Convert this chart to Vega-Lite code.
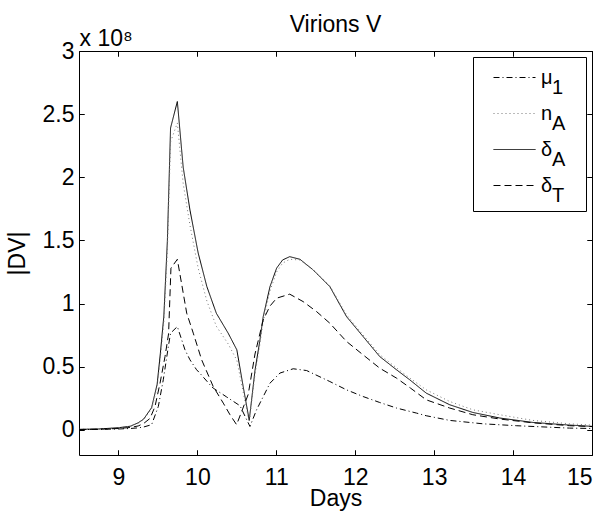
{
  "$schema": "https://vega.github.io/schema/vega-lite/v6.json",
  "width": 513,
  "height": 404,
  "autosize": {"type": "none"},
  "padding": {"left": 79, "top": 51, "right": 16, "bottom": 61},
  "background": "white",
  "config": {
    "font": "Liberation Sans",
    "view": {"stroke": null},
    "axis": {
      "domainColor": "black",
      "labelColor": "black",
      "titleColor": "black",
      "labelFont": "Liberation Sans",
      "titleFont": "Liberation Sans",
      "labelFontSize": 23,
      "titleFontSize": 23,
      "titleFontWeight": "normal",
      "domainWidth": 1
    },
    "style": {"guide-label": {"lineHeight": 10}}
  },
  "data": {
    "values": [
      {"s":"dA","d":8.5,"V":0.003e8},{"s":"dA","d":8.75,"V":0.006e8},{"s":"dA","d":9.0,"V":0.016e8},{"s":"dA","d":9.15,"V":0.028e8},{"s":"dA","d":9.25,"V":0.055e8},{"s":"dA","d":9.32,"V":0.085e8},{"s":"dA","d":9.42,"V":0.175e8},{"s":"dA","d":9.49,"V":0.36e8},{"s":"dA","d":9.53,"V":0.6e8},{"s":"dA","d":9.575,"V":0.9e8},{"s":"dA","d":9.62,"V":1.5e8},{"s":"dA","d":9.66,"V":2.39e8},{"s":"dA","d":9.746,"V":2.6e8},{"s":"dA","d":9.82,"V":2.08e8},{"s":"dA","d":9.906,"V":1.74e8},{"s":"dA","d":10.01,"V":1.4e8},{"s":"dA","d":10.12,"V":1.134e8},{"s":"dA","d":10.24,"V":0.923e8},{"s":"dA","d":10.39,"V":0.765e8},{"s":"dA","d":10.5,"V":0.633e8},{"s":"dA","d":10.58,"V":0.343e8},{"s":"dA","d":10.657,"V":0.075e8},{"s":"dA","d":10.73,"V":0.47e8},{"s":"dA","d":10.79,"V":0.7e8},{"s":"dA","d":10.834,"V":0.896e8},{"s":"dA","d":10.92,"V":1.134e8},{"s":"dA","d":11.004,"V":1.28e8},{"s":"dA","d":11.08,"V":1.345e8},{"s":"dA","d":11.17,"V":1.371e8},{"s":"dA","d":11.3,"V":1.35e8},{"s":"dA","d":11.467,"V":1.266e8},{"s":"dA","d":11.678,"V":1.134e8},{"s":"dA","d":11.89,"V":0.896e8},{"s":"dA","d":12.1,"V":0.738e8},{"s":"dA","d":12.31,"V":0.58e8},{"s":"dA","d":12.523,"V":0.475e8},{"s":"dA","d":12.69,"V":0.396e8},{"s":"dA","d":12.9,"V":0.29e8},{"s":"dA","d":13.197,"V":0.198e8},{"s":"dA","d":13.49,"V":0.137e8},{"s":"dA","d":13.83,"V":0.093e8},{"s":"dA","d":14.25,"V":0.058e8},{"s":"dA","d":14.716,"V":0.037e8},{"s":"dA","d":15,"V":0.027e8},

      {"s":"nA","d":8.5,"V":0.003e8},{"s":"nA","d":8.75,"V":0.006e8},{"s":"nA","d":9.0,"V":0.015e8},{"s":"nA","d":9.15,"V":0.027e8},{"s":"nA","d":9.25,"V":0.052e8},{"s":"nA","d":9.32,"V":0.08e8},{"s":"nA","d":9.42,"V":0.165e8},{"s":"nA","d":9.49,"V":0.34e8},{"s":"nA","d":9.53,"V":0.56e8},{"s":"nA","d":9.575,"V":0.85e8},{"s":"nA","d":9.62,"V":1.42e8},{"s":"nA","d":9.66,"V":2.28e8},{"s":"nA","d":9.746,"V":2.43e8},{"s":"nA","d":9.82,"V":1.95e8},{"s":"nA","d":9.906,"V":1.62e8},{"s":"nA","d":10.01,"V":1.28e8},{"s":"nA","d":10.12,"V":1.02e8},{"s":"nA","d":10.24,"V":0.82e8},{"s":"nA","d":10.39,"V":0.68e8},{"s":"nA","d":10.5,"V":0.55e8},{"s":"nA","d":10.58,"V":0.3e8},{"s":"nA","d":10.657,"V":0.06e8},{"s":"nA","d":10.73,"V":0.44e8},{"s":"nA","d":10.79,"V":0.67e8},{"s":"nA","d":10.834,"V":0.86e8},{"s":"nA","d":10.92,"V":1.1e8},{"s":"nA","d":11.004,"V":1.25e8},{"s":"nA","d":11.08,"V":1.32e8},{"s":"nA","d":11.17,"V":1.35e8},{"s":"nA","d":11.3,"V":1.345e8},{"s":"nA","d":11.467,"V":1.265e8},{"s":"nA","d":11.678,"V":1.14e8},{"s":"nA","d":11.89,"V":0.91e8},{"s":"nA","d":12.1,"V":0.75e8},{"s":"nA","d":12.31,"V":0.595e8},{"s":"nA","d":12.523,"V":0.49e8},{"s":"nA","d":12.69,"V":0.41e8},{"s":"nA","d":12.9,"V":0.316e8},{"s":"nA","d":13.197,"V":0.224e8},{"s":"nA","d":13.49,"V":0.158e8},{"s":"nA","d":13.83,"V":0.119e8},{"s":"nA","d":14.25,"V":0.074e8},{"s":"nA","d":14.716,"V":0.047e8},{"s":"nA","d":15,"V":0.037e8},

      {"s":"dT","d":8.5,"V":0.002e8},{"s":"dT","d":8.75,"V":0.004e8},{"s":"dT","d":9.0,"V":0.01e8},{"s":"dT","d":9.15,"V":0.018e8},{"s":"dT","d":9.25,"V":0.03e8},{"s":"dT","d":9.32,"V":0.05e8},{"s":"dT","d":9.4,"V":0.09e8},{"s":"dT","d":9.463,"V":0.184e8},{"s":"dT","d":9.527,"V":0.37e8},{"s":"dT","d":9.59,"V":0.58e8},{"s":"dT","d":9.635,"V":0.76e8},{"s":"dT","d":9.665,"V":1.28e8},{"s":"dT","d":9.746,"V":1.35e8},{"s":"dT","d":9.865,"V":0.923e8},{"s":"dT","d":9.948,"V":0.765e8},{"s":"dT","d":10.054,"V":0.554e8},{"s":"dT","d":10.2,"V":0.343e8},{"s":"dT","d":10.328,"V":0.211e8},{"s":"dT","d":10.413,"V":0.119e8},{"s":"dT","d":10.497,"V":0.04e8},{"s":"dT","d":10.644,"V":0.28e8},{"s":"dT","d":10.73,"V":0.6e8},{"s":"dT","d":10.834,"V":0.87e8},{"s":"dT","d":10.92,"V":0.98e8},{"s":"dT","d":11.004,"V":1.042e8},{"s":"dT","d":11.17,"V":1.074e8},{"s":"dT","d":11.34,"V":1.015e8},{"s":"dT","d":11.51,"V":0.936e8},{"s":"dT","d":11.678,"V":0.844e8},{"s":"dT","d":11.89,"V":0.699e8},{"s":"dT","d":12.1,"V":0.593e8},{"s":"dT","d":12.31,"V":0.488e8},{"s":"dT","d":12.523,"V":0.409e8},{"s":"dT","d":12.7,"V":0.33e8},{"s":"dT","d":12.9,"V":0.237e8},{"s":"dT","d":13.197,"V":0.172e8},{"s":"dT","d":13.49,"V":0.119e8},{"s":"dT","d":13.83,"V":0.085e8},{"s":"dT","d":14.25,"V":0.055e8},{"s":"dT","d":14.716,"V":0.032e8},{"s":"dT","d":15,"V":0.025e8},

      {"s":"mu1","d":8.5,"V":0.002e8},{"s":"mu1","d":8.75,"V":0.003e8},{"s":"mu1","d":9.0,"V":0.006e8},{"s":"mu1","d":9.15,"V":0.01e8},{"s":"mu1","d":9.25,"V":0.015e8},{"s":"mu1","d":9.32,"V":0.022e8},{"s":"mu1","d":9.42,"V":0.04e8},{"s":"mu1","d":9.505,"V":0.184e8},{"s":"mu1","d":9.568,"V":0.396e8},{"s":"mu1","d":9.632,"V":0.659e8},{"s":"mu1","d":9.66,"V":0.765e8},{"s":"mu1","d":9.746,"V":0.817e8},{"s":"mu1","d":9.843,"V":0.633e8},{"s":"mu1","d":9.906,"V":0.554e8},{"s":"mu1","d":9.99,"V":0.475e8},{"s":"mu1","d":10.03,"V":0.449e8},{"s":"mu1","d":10.16,"V":0.356e8},{"s":"mu1","d":10.2,"V":0.33e8},{"s":"mu1","d":10.37,"V":0.26e8},{"s":"mu1","d":10.54,"V":0.19e8},{"s":"mu1","d":10.666,"V":0.026e8},{"s":"mu1","d":10.75,"V":0.158e8},{"s":"mu1","d":10.92,"V":0.369e8},{"s":"mu1","d":11.046,"V":0.449e8},{"s":"mu1","d":11.214,"V":0.483e8},{"s":"mu1","d":11.384,"V":0.469e8},{"s":"mu1","d":11.678,"V":0.382e8},{"s":"mu1","d":11.89,"V":0.316e8},{"s":"mu1","d":12.1,"V":0.263e8},{"s":"mu1","d":12.31,"V":0.216e8},{"s":"mu1","d":12.523,"V":0.172e8},{"s":"mu1","d":12.776,"V":0.132e8},{"s":"mu1","d":12.9,"V":0.111e8},{"s":"mu1","d":13.197,"V":0.074e8},{"s":"mu1","d":13.62,"V":0.047e8},{"s":"mu1","d":14.04,"V":0.032e8},{"s":"mu1","d":14.716,"V":0.013e8},{"s":"mu1","d":15,"V":0.01e8}
    ]
  },
  "layer": [
    {
      "mark": {"type": "line", "strokeWidth": 1, "clip": true},
      "encoding": {
        "x": {
          "field": "d", "type": "quantitative",
          "scale": {"domain": [8.5, 15], "nice": false, "zero": false},
          "axis": {"orient": "bottom", "values": [9, 10, 11, 12, 13, 14, 15], "format": "d", "ticks": false, "labelPadding": 11, "grid": true, "gridColor": "black", "gridOpacity": 1, "gridWidth": 1, "gridDash": [5, 394, 5, 1000], "title": "Days", "titleY": 50, "titleBaseline": "alphabetic"}
        },
        "y": {
          "field": "V", "type": "quantitative",
          "scale": {"domain": [-0.2e8, 3e8], "nice": false, "zero": false},
          "axis": {"orient": "left", "values": [0, 0.5e8, 1e8, 1.5e8, 2e8, 2.5e8, 3e8], "labelExpr": "format(datum.value / 1e8, '~g')", "ticks": false, "labelPadding": 5, "grid": true, "gridColor": "black", "gridOpacity": 1, "gridWidth": 1, "gridDash": [5, 503, 5, 1000], "title": "|DV|", "titleX": -55, "titleY": 202, "titleAngle": -90, "titleAlign": "center", "titleBaseline": "alphabetic"}
        },
        "color": {
          "field": "s", "type": "nominal",
          "scale": {"domain": ["mu1", "nA", "dA", "dT"], "range": ["black", "#777777", "black", "black"]},
          "legend": {
            "title": null,
            "orient": "top-right",
            "offset": 6,
            "padding": 5,
            "fillColor": "white",
            "strokeColor": "black",
            "cornerRadius": 0,
            "symbolType": "M-1.4,0H1.4",
            "symbolSize": 900,
            "symbolStrokeWidth": 1,
            "symbolOffset": 21,
            "labelOffset": 11,
            "labelFont": "Liberation Sans",
            "labelFontSize": 20,
            "labelColor": "black",
            "labelAlign": "left",
            "labelBaseline": "middle",
            "rowPadding": 0,
            "labelExpr": "datum.label == 'mu1' ? ['μ\u200b', '\u200b\u00a0\u00a01\u00a0\u00a0\u2009\u200b'] : datum.label == 'nA' ? ['n\u200b', '\u200b\u00a0\u00a0A\u00a0\u00a0\u2009\u200b'] : datum.label == 'dA' ? ['δ\u200b', '\u200b\u00a0\u00a0A\u00a0\u00a0\u2009\u200b'] : ['δ\u200b', '\u200b\u00a0\u00a0T\u00a0\u00a0\u2009\u200b']"
          }
        },
        "strokeDash": {
          "field": "s", "type": "nominal",
          "scale": {"domain": ["mu1", "nA", "dA", "dT"], "range": [[6, 3, 1, 3], [1, 3], [1, 0], [7, 4]]},
          "legend": {
            "title": null,
            "orient": "top-right",
            "offset": 6,
            "padding": 5,
            "fillColor": "white",
            "strokeColor": "black",
            "cornerRadius": 0,
            "symbolType": "M-1.4,0H1.4",
            "symbolSize": 900,
            "symbolStrokeWidth": 1,
            "symbolOffset": 21,
            "labelOffset": 11,
            "labelFont": "Liberation Sans",
            "labelFontSize": 20,
            "labelColor": "black",
            "labelAlign": "left",
            "labelBaseline": "middle",
            "rowPadding": 0,
            "labelExpr": "datum.label == 'mu1' ? ['μ\u200b', '\u200b\u00a0\u00a01\u00a0\u00a0\u2009\u200b'] : datum.label == 'nA' ? ['n\u200b', '\u200b\u00a0\u00a0A\u00a0\u00a0\u2009\u200b'] : datum.label == 'dA' ? ['δ\u200b', '\u200b\u00a0\u00a0A\u00a0\u00a0\u2009\u200b'] : ['δ\u200b', '\u200b\u00a0\u00a0T\u00a0\u00a0\u2009\u200b']"
          }
        }
      }
    },
    {
      "mark": {"type": "line", "opacity": 0},
      "encoding": {
        "x": {
          "field": "d", "type": "quantitative",
          "axis": {"orient": "top", "offset": -404, "values": [9, 10, 11, 12, 13, 14, 15], "ticks": true, "tickSize": 5, "tickWidth": 1, "tickColor": "black", "grid": false, "labels": false, "domain": false, "title": null}
        },
        "y": {
          "field": "V", "type": "quantitative",
          "axis": {"orient": "right", "offset": -513, "values": [0, 0.5e8, 1e8, 1.5e8, 2e8, 2.5e8, 3e8], "ticks": true, "tickSize": 5, "tickWidth": 1, "tickColor": "black", "grid": false, "labels": false, "domain": false, "title": null}
        },
        "detail": {"field": "s"}
      }
    },
    {
      "mark": {"type": "line", "opacity": 0},
      "encoding": {
        "x": {
          "field": "d", "type": "quantitative",
          "axis": {"orient": "bottom", "offset": -404, "values": [9, 10, 11, 12, 13, 14, 15], "ticks": true, "tickSize": 5, "tickWidth": 1, "tickColor": "black", "grid": false, "labels": false, "title": "x 10⁸", "titleX": 0, "titleY": -6, "titleAngle": 0, "titleAlign": "left", "titleBaseline": "alphabetic"}
        },
        "y": {
          "field": "V", "type": "quantitative",
          "axis": {"orient": "left", "offset": -513, "values": [0, 0.5e8, 1e8, 1.5e8, 2e8, 2.5e8, 3e8], "ticks": true, "tickSize": 5, "tickWidth": 1, "tickColor": "black", "grid": false, "labels": false, "title": "Virions V", "titleX": -257, "titleY": -20, "titleAngle": 0, "titleAlign": "center", "titleBaseline": "alphabetic"}
        },
        "detail": {"field": "s"}
      }
    }
  ],
  "resolve": {"axis": {"x": "independent", "y": "independent"}}
}
